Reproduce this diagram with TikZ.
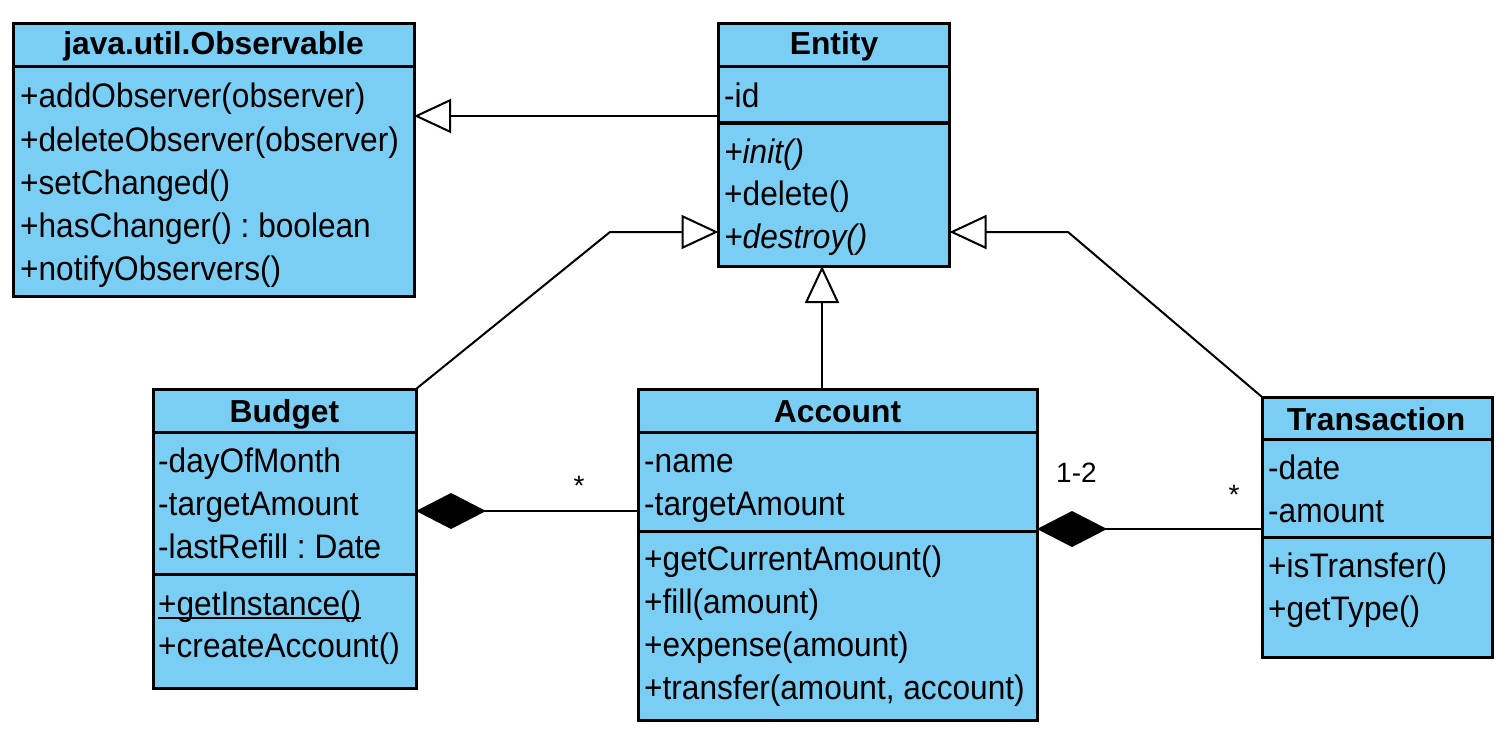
\documentclass[tikz,border=0pt]{standalone}
\usepackage{fontspec}
\setmainfont{Liberation Sans}
\newfontfamily\memberfont[FakeStretch=0.93]{Liberation Sans}
\usetikzlibrary{arrows.meta,calc}
\definecolor{classfill}{RGB}{122,206,244}
\frenchspacing
\begin{document}
\begin{tikzpicture}[x=1pt,y=-1pt,
  classbox/.style={draw=black, fill=classfill, line width=3pt, rectangle, anchor=north west, inner sep=0pt, outer sep=0pt},
  member/.style={anchor=base west, inner sep=0pt, font=\memberfont\fontsize{34}{40}\selectfont},
  title/.style={anchor=base, inner sep=0pt, font=\fontsize{31.8}{37}\selectfont\bfseries},
  sep/.style={line width=3pt},
  link/.style={line width=2pt, line join=miter},
  gen/.style={link, -{Triangle[open, length=37pt, width=34pt, fill=white]}},
  comp/.style={link, {Diamond[length=70pt, width=36pt]}-},
  mult/.style={inner sep=0pt, font=\fontsize{28}{34}\selectfont}
]
\useasboundingbox (0,0) rectangle (1511,733);

% class boxes
\node[classbox, minimum width=401pt, minimum height=272pt] (obs) at (13,24) {};
\node[classbox, minimum width=231pt, minimum height=242pt] (ent) at (718.5,24) {};
\node[classbox, minimum width=263pt, minimum height=299pt] (bud) at (153,389) {};
\node[classbox, minimum width=399pt, minimum height=331pt] (acc) at (638,389) {};
\node[classbox, minimum width=230pt, minimum height=260pt] (tra) at (1262,397) {};

% compartment separators
\draw[sep] ($(obs.north west)+(0,43)$) -- ($(obs.north east)+(0,43)$);
\draw[sep] ($(ent.north west)+(0,43)$) -- ($(ent.north east)+(0,43)$);
\draw[sep] ($(ent.north west)+(0,99)$) -- ($(ent.north east)+(0,99)$);
\draw[sep] ($(bud.north west)+(0,43)$) -- ($(bud.north east)+(0,43)$);
\draw[sep] ($(bud.north west)+(0,185)$) -- ($(bud.north east)+(0,185)$);
\draw[sep] ($(acc.north west)+(0,43)$) -- ($(acc.north east)+(0,43)$);
\draw[sep] ($(acc.north west)+(0,142)$) -- ($(acc.north east)+(0,142)$);
\draw[sep] ($(tra.north west)+(0,42)$) -- ($(tra.north east)+(0,42)$);
\draw[sep] ($(tra.north west)+(0,140)$) -- ($(tra.north east)+(0,140)$);

% java.util.Observable
\node[title] (obs-t) at (213.5,55) {java.util.Observable};
\node[member] (obs-m1) at (20,108) {+addObserver(observer)};
\node[member] (obs-m2) at (20,151) {+deleteObserver(observer)};
\node[member] (obs-m3) at (20,194) {+setChanged()};
\node[member] (obs-m4) at (20,237) {+hasChanger() : boolean};
\node[member] (obs-m5) at (20,280) {+notifyObservers()};

% Entity
\node[title] (ent-t) at (834,55) {Entity};
\node[member] (ent-a1) at (724,107) {-id};
\node[member] (ent-m1) at (724,163) {\itshape +init()};
\node[member] (ent-m2) at (724,205.5) {+delete()};
\node[member] (ent-m3) at (724,248) {\itshape +destroy()};

% Budget
\node[title] (bud-t) at (284.5,422) {Budget};
\node[member] (bud-a1) at (158,472) {-dayOfMonth};
\node[member] (bud-a2) at (158,515) {-targetAmount};
\node[member] (bud-a3) at (158,558) {-lastRefill : Date};
\node[member] (bud-m1) at (158,615) {+getInstance()};
\node[member] (bud-m2) at (158,657) {+createAccount()};
\draw[line width=2pt] ($(bud-m1.base west)+(0,3)$) -- ($(bud-m1.base east)+(0,3)$);

% Account
\node[title] (acc-t) at (837.5,422) {Account};
\node[member] (acc-a1) at (644,472) {-name};
\node[member] (acc-a2) at (644,515) {-targetAmount};
\node[member] (acc-m1) at (644,570) {+getCurrentAmount()};
\node[member] (acc-m2) at (644,613) {+fill(amount)};
\node[member] (acc-m3) at (644,656) {+expense(amount)};
\node[member] (acc-m4) at (644,699) {+transfer(amount, account)};

% Transaction
\node[title] (tra-t) at (1376,430) {Transaction};
\node[member] (tra-a1) at (1268,479) {-date};
\node[member] (tra-a2) at (1268,522) {-amount};
\node[member] (tra-m1) at (1268,577) {+isTransfer()};
\node[member] (tra-m2) at (1268,620) {+getType()};

% generalisations
\coordinate (oy) at (0,116);
\coordinate (bk) at (610,232);
\coordinate (tk) at (1068,232);
\coordinate (ax) at (822,0);
\draw[gen] (ent.west |- oy) -- (obs.east |- oy);
\draw[gen] (bud.north east) -- (bk) -- (ent.west |- bk);
\draw[gen] (tra.north west) -- (tk) -- (ent.east |- tk);
\draw[gen] (acc.north -| ax) -- (ent.south -| ax);

% compositions
\coordinate (by) at (0,511);
\coordinate (ty) at (0,529);
\draw[comp] (bud.east |- by) -- (acc.west |- by);
\draw[comp] (acc.east |- ty) -- (tra.west |- ty);

% multiplicities
\node[mult] (m-bud) at (579,486) {*};
\node[mult, anchor=base west] (m-acc) at (1056,482) {1-2};
\node[mult] (m-tra) at (1234,495) {*};
\end{tikzpicture}
\end{document}
